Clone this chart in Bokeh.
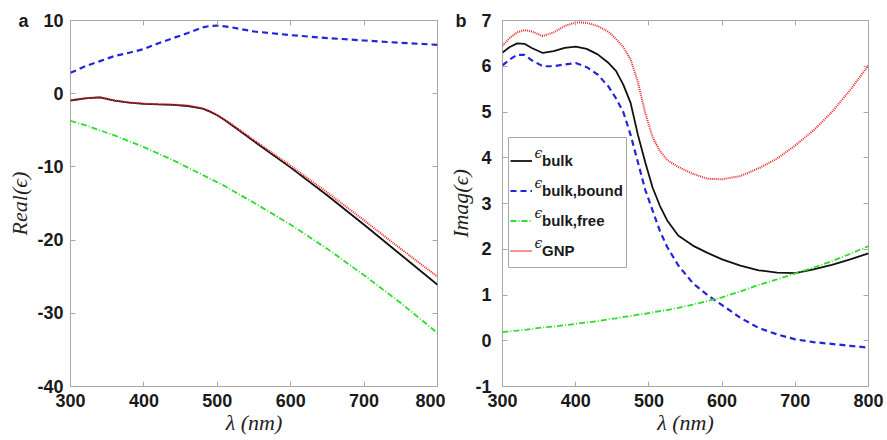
from bokeh.plotting import figure
from bokeh.layouts import row
from bokeh.models import (FixedTicker, LinearAxis, Range1d, Legend, LegendItem,
                          Label, BoxAnnotation, CustomJSTickFormatter)
from bokeh.embed import file_html
from bokeh.resources import INLINE

# ---------------- data ----------------
x_ticks = [300, 400, 500, 600, 700, 800]
ya_ticks = [-40, -30, -20, -10, 0, 10]
yb_ticks = [-1, 0, 1, 2, 3, 4, 5, 6, 7]

# panel a : real part
lam_a = [300, 320, 340, 360, 380, 400, 420, 440, 460, 480, 490, 500, 510, 520,
         550, 600, 650, 700, 750, 800]
re_bulk = [-0.93, -0.65, -0.5, -0.95, -1.22, -1.38, -1.46, -1.52, -1.68, -2.05,
           -2.45, -2.95, -3.6, -4.3, -6.5, -10.1, -13.9, -17.9, -22.0, -26.1]
re_bound = [2.85, 3.75, 4.45, 5.15, 5.6, 6.1, 6.9, 7.6, 8.3, 9.05,
            9.25, 9.3, 9.2, 9.05, 8.5, 8.0, 7.6, 7.27, 6.95, 6.68]
re_free = [-3.7, -4.3, -5.0, -5.7, -6.5, -7.3, -8.2, -9.1, -10.1, -11.1,
           -11.6, -12.1, -12.6, -13.2, -14.9, -17.9, -21.2, -24.8, -28.6, -32.7]
re_gnp = [-0.9, -0.62, -0.47, -0.92, -1.2, -1.35, -1.43, -1.49, -1.64, -2.0,
          -2.4, -2.9, -3.55, -4.2, -6.35, -9.85, -13.5, -17.3, -21.2, -25.0]

# panel b : imaginary part
lam_b = [300, 310, 320, 330, 340, 355, 370, 385, 400, 415, 430, 445, 455, 465,
         475, 485, 495, 505, 515, 525, 540, 560, 580, 600, 625, 650, 675, 700,
         725, 750, 775, 800]
im_bulk = [6.3, 6.42, 6.5, 6.49, 6.4, 6.29, 6.33, 6.4, 6.43, 6.38, 6.26, 6.07,
           5.9, 5.6, 5.2, 4.5, 3.9, 3.35, 2.95, 2.63, 2.3, 2.08, 1.92, 1.78,
           1.64, 1.54, 1.49, 1.48, 1.56, 1.66, 1.78, 1.91]
im_bound = [6.02, 6.15, 6.25, 6.25, 6.13, 6.0, 6.0, 6.04, 6.07, 5.98, 5.82, 5.55,
            5.3, 5.0, 4.5, 3.9, 3.3, 2.85, 2.4, 2.05, 1.65, 1.26, 1.0, 0.78,
            0.5, 0.28, 0.14, 0.03, -0.03, -0.07, -0.11, -0.15]
im_free = [0.19, 0.21, 0.22, 0.24, 0.26, 0.29, 0.31, 0.34, 0.37, 0.4, 0.43, 0.47,
           0.49, 0.52, 0.54, 0.57, 0.59, 0.62, 0.65, 0.67, 0.72, 0.79, 0.87, 0.95,
           1.08, 1.22, 1.34, 1.47, 1.6, 1.74, 1.9, 2.07]
im_gnp = [6.45, 6.62, 6.74, 6.79, 6.76, 6.66, 6.74, 6.88, 6.96, 6.95, 6.88, 6.75,
          6.6, 6.42, 6.15, 5.65, 4.98, 4.45, 4.15, 3.95, 3.8, 3.65, 3.54, 3.53,
          3.6, 3.77, 3.98, 4.27, 4.6, 5.0, 5.48, 6.02]

legend_subs = ["bulk", "bulk,bound", "bulk,free", "GNP"]

# ---------------- styles ----------------
AX = "#a8a8a8"
SANS = "Liberation Sans"
SERIF = "Liberation Serif"
C_BULK = "#111111"
C_BOUND = "#2424dc"
C_FREE = "#2cdc2c"
C_GNP = "#e8282b"
NB = "\u00a0\u00a0\u00a0"


def blank_axis(ticks):
    ax = LinearAxis(ticker=FixedTicker(ticks=ticks),
                    formatter=CustomJSTickFormatter(code="return ''"))
    ax.axis_line_color = None
    ax.major_tick_line_color = AX
    ax.major_tick_in = 5
    ax.major_tick_out = 0
    ax.minor_tick_line_color = None
    ax.major_label_text_font_size = "0px"
    ax.major_label_standoff = 0
    return ax


def make_fig(width, yr, yticks, ylabel, letter, border_left, border_right,
             ystand, ylabstand):
    p = figure(width=width, height=440, x_range=Range1d(300, 800), y_range=Range1d(*yr),
               output_backend="svg", toolbar_location=None,
               min_border_left=border_left, min_border_right=border_right,
               min_border_top=20, min_border_bottom=54)
    p.grid.visible = False
    p.outline_line_color = AX
    p.outline_line_width = 1
    for ax, ticks in ((p.xaxis[0], x_ticks), (p.yaxis[0], yticks)):
        ax.ticker = FixedTicker(ticks=ticks)
        ax.axis_line_color = None
        ax.major_tick_line_color = AX
        ax.major_tick_in = 5
        ax.major_tick_out = 0
        ax.minor_tick_line_color = None
        ax.major_label_text_font = SANS
        ax.major_label_text_font_style = "bold"
        ax.major_label_text_font_size = "18px"
        ax.major_label_text_color = "#1a1a1a"
        ax.axis_label_text_font = SERIF
        ax.axis_label_text_font_style = "italic"
        ax.axis_label_text_font_size = "22px"
        ax.axis_label_text_color = "#222222"
    p.xaxis.formatter = CustomJSTickFormatter(code="return tick.toFixed(0)")
    # the panel letter sits on the same line as the top y tick label
    p.yaxis.formatter = CustomJSTickFormatter(
        args=dict(top=yr[1], letter=letter + NB),
        code="return (tick == top ? letter : '') + tick.toFixed(0)")
    p.xaxis.axis_label = "λ (nm)"
    p.xaxis.major_label_standoff = 7
    p.xaxis.axis_label_standoff = 0
    p.yaxis.axis_label = ylabel
    p.yaxis.major_label_standoff = ystand
    p.yaxis.axis_label_standoff = ylabstand
    p.add_layout(blank_axis(x_ticks), "above")
    p.add_layout(blank_axis(yticks), "right")
    return p


# ---------------- panel a ----------------
pa = make_fig(445, (-40, 10), ya_ticks, "Real(ϵ)", "a", 70, 8, 7, -17)
pa.line(lam_a, re_bulk, line_color=C_BULK, line_width=1.8)
pa.line(lam_a, re_bound, line_color=C_BOUND, line_width=2.2, line_dash="6 4")
pa.line(lam_a, re_free, line_color=C_FREE, line_width=1.8, line_dash="6 2 1 2")
pa.line(lam_a, re_gnp, line_color=C_GNP, line_width=2, line_dash="1 1")

# ---------------- panel b ----------------
pb = make_fig(442, (-1, 7), yb_ticks, "Imag(ϵ)", "b", 57, 19, 11, -21)
r1 = pb.line(lam_b, im_bulk, line_color=C_BULK, line_width=1.8)
r2 = pb.line(lam_b, im_bound, line_color=C_BOUND, line_width=2.2, line_dash="6 4")
r3 = pb.line(lam_b, im_free, line_color=C_FREE, line_width=1.8, line_dash="6 2 1 2")
r4 = pb.line(lam_b, im_gnp, line_color=C_GNP, line_width=2, line_dash="1 1")

# white legend box (drawn below the legend so the epsilons can sit on it)
pb.add_layout(BoxAnnotation(left=6, right=124, bottom=119, top=249,
                            left_units="screen", right_units="screen",
                            bottom_units="screen", top_units="screen",
                            fill_color="white", fill_alpha=1,
                            line_color=AX, line_width=1, line_alpha=1))

leg = Legend(items=[LegendItem(label=s, renderers=[r]) for s, r in
                    zip(legend_subs, [r1, r2, r3, r4])],
             location=(8, 121), orientation="vertical")
leg.label_text_font = SANS
leg.label_text_font_style = "bold"
leg.label_text_font_size = "15px"
leg.label_text_color = "#1a1a1a"
leg.padding = 0
leg.spacing = 1
leg.margin = 0
leg.glyph_width = 22
leg.glyph_height = 29
leg.label_height = 29
leg.label_standoff = 10
leg.border_line_color = None
leg.background_fill_alpha = 0
pb.add_layout(leg)

# small epsilon symbols in front of each legend subscript
for k in range(4):
    pb.add_layout(Label(x=32, y=233.5 - 30 * k, x_units="screen", y_units="screen",
                        text="ϵ", text_font="DejaVu Serif", text_font_style="italic",
                        text_font_size="14px", text_baseline="middle",
                        text_color="#1a1a1a"))

layout = row(pa, pb)
open("out.html", "w").write(file_html(layout, INLINE))
